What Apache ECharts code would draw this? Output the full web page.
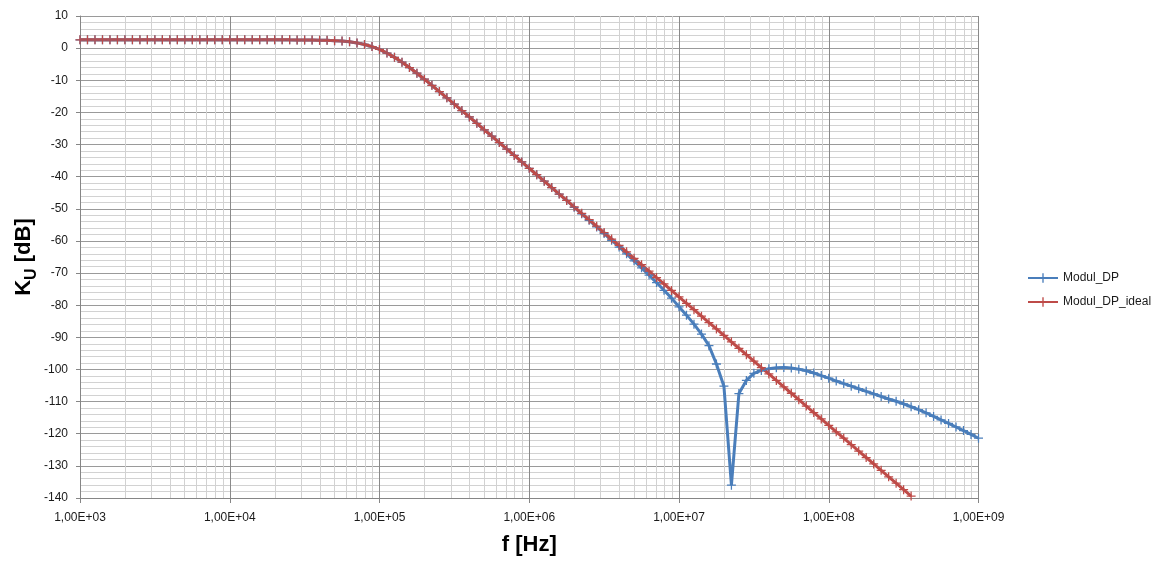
<!DOCTYPE html>
<html>
<head>
<meta charset="utf-8">
<script src="https://cdn.jsdelivr.net/npm/echarts@6/dist/echarts.min.js"></script>
<style>
html,body{margin:0;padding:0;background:#fff;}
#chart{width:1155px;height:561px;}
</style>
</head>
<body>
<div id="chart"></div>
<script>
// Frequencies (Hz), 20 points per decade
var freqs = [
1.000e3,1.122e3,1.259e3,1.413e3,1.585e3,1.778e3,1.995e3,2.239e3,2.512e3,2.818e3,3.162e3,3.548e3,3.981e3,4.467e3,5.012e3,5.623e3,6.310e3,7.079e3,7.943e3,8.913e3,
1.000e4,1.122e4,1.259e4,1.413e4,1.585e4,1.778e4,1.995e4,2.239e4,2.512e4,2.818e4,3.162e4,3.548e4,3.981e4,4.467e4,5.012e4,5.623e4,6.310e4,7.079e4,7.943e4,8.913e4,
1.000e5,1.122e5,1.259e5,1.413e5,1.585e5,1.778e5,1.995e5,2.239e5,2.512e5,2.818e5,3.162e5,3.548e5,3.981e5,4.467e5,5.012e5,5.623e5,6.310e5,7.079e5,7.943e5,8.913e5,
1.000e6,1.122e6,1.259e6,1.413e6,1.585e6,1.778e6,1.995e6,2.239e6,2.512e6,2.818e6,3.162e6,3.548e6,3.981e6,4.467e6,5.012e6,5.623e6,6.310e6,7.079e6,7.943e6,8.913e6,
1.000e7,1.122e7,1.259e7,1.413e7,1.585e7,1.778e7,1.995e7,2.239e7,2.512e7,2.818e7,3.162e7,3.548e7,3.981e7,4.467e7,5.012e7,5.623e7,6.310e7,7.079e7,7.943e7,8.913e7,
1.000e8,1.122e8,1.259e8,1.413e8,1.585e8,1.778e8,1.995e8,2.239e8,2.512e8,2.818e8,3.162e8,3.548e8,3.981e8,4.467e8,5.012e8,5.623e8,6.310e8,7.079e8,7.943e8,8.913e8,
1.000e9
];

// Modul_DP (dB)
var modulDP = [
2.6,2.6,2.6,2.6,2.6,2.6,2.6,2.6,2.6,2.6,2.6,2.6,2.6,2.6,2.6,2.6,2.6,2.6,2.6,2.6,
2.6,2.6,2.6,2.6,2.6,2.6,2.6,2.6,2.58,2.57,2.56,2.53,2.49,2.43,2.33,2.19,1.96,1.63,1.14,0.48,
-0.41,-1.53,-2.86,-4.37,-6.04,-7.81,-9.67,-11.57,-13.51,-15.47,-17.44,-19.43,-21.42,-23.41,-25.41,-27.4,-29.4,-31.4,-33.4,-35.4,
-37.4,-39.4,-41.4,-43.4,-45.4,-47.4,-49.52,-51.56,-53.6,-55.65,-57.71,-59.79,-61.89,-64.02,-66.18,-68.38,-70.64,-72.96,-75.36,-77.8,
-80.5,-83.1,-85.9,-89.0,-92.6,-98.3,-105.2,-136.0,-107.5,-103.4,-101.2,-100.3,-99.8,-99.5,-99.35,-99.55,-99.9,-100.4,-101.1,-101.9,
-102.7,-103.6,-104.4,-105.2,-106.0,-106.8,-107.6,-108.4,-109.2,-109.9,-110.7,-111.6,-112.5,-113.5,-114.6,-115.7,-116.8,-117.9,-119.0,-120.2,
-121.4
];

// Modul_DP_ideal (dB)
var modulDPIdeal = [
2.6,2.6,2.6,2.6,2.6,2.6,2.6,2.6,2.6,2.6,2.6,2.6,2.6,2.6,2.6,2.6,2.6,2.6,2.6,2.6,
2.6,2.6,2.6,2.6,2.6,2.6,2.6,2.6,2.58,2.57,2.56,2.53,2.49,2.43,2.33,2.19,1.96,1.63,1.14,0.48,
-0.41,-1.53,-2.86,-4.37,-6.04,-7.81,-9.67,-11.57,-13.51,-15.47,-17.44,-19.43,-21.42,-23.41,-25.41,-27.4,-29.4,-31.4,-33.4,-35.4,
-37.4,-39.4,-41.4,-43.4,-45.4,-47.4,-49.4,-51.4,-53.4,-55.4,-57.4,-59.4,-61.4,-63.4,-65.4,-67.4,-69.4,-71.4,-73.4,-75.4,
-77.4,-79.4,-81.4,-83.4,-85.4,-87.4,-89.4,-91.4,-93.4,-95.4,-97.4,-99.4,-101.4,-103.4,-105.4,-107.4,-109.4,-111.4,-113.4,-115.4,
-117.4,-119.4,-121.4,-123.4,-125.4,-127.4,-129.4,-131.4,-133.4,-135.4,-137.4,-139.4
];

var seriesNames = ['Modul_DP', 'Modul_DP_ideal'];
var xTickLabels = ['1,00E+03','1,00E+04','1,00E+05','1,00E+06','1,00E+07','1,00E+08','1,00E+09'];

var FONT = '"Liberation Sans", Arial, sans-serif';
var PLUS = 'path://M0,4.3H10V5.7H0Z M4.3,0H5.7V10H4.3Z';

function pairs(vals) {
  return vals.map(function (v, i) { return [freqs[i], v]; });
}

var chart = echarts.init(document.getElementById('chart'), null, {renderer: 'canvas'});
chart.setOption({
  animation: false,
  backgroundColor: '#ffffff',
  textStyle: {fontFamily: FONT},
  grid: {left: 80, right: 176.5, top: 16, bottom: 63, containLabel: false, outerBoundsMode: 'none'},
  legend: {
    orient: 'vertical',
    left: 1022,
    top: 267,
    itemWidth: 30,
    itemHeight: 12,
    itemGap: 12,
    data: seriesNames,
    textStyle: {fontFamily: FONT, fontSize: 12, color: '#1a1a1a'}
  },
  xAxis: {
    type: 'log',
    logBase: 10,
    min: 1e3,
    max: 1e9,
    name: 'f [Hz]',
    nameLocation: 'middle',
    nameGap: 36,
    nameMoveOverlap: false,
    nameTextStyle: {fontFamily: FONT, fontSize: 22, fontWeight: 'bold', color: '#000'},
    axisLine: {show: true, onZero: false, lineStyle: {color: '#868686', width: 1}},
    axisTick: {show: true, length: 5, lineStyle: {color: '#868686'}},
    axisLabel: {
      margin: 14,
      fontSize: 12,
      color: '#1a1a1a',
      fontFamily: FONT,
      formatter: function (v) { return xTickLabels[Math.round(Math.log10(v)) - 3]; }
    },
    splitLine: {show: true, lineStyle: {color: '#8a8a8a', width: 1}},
    minorTick: {show: false, splitNumber: 9},
    minorSplitLine: {show: true, lineStyle: {color: '#d2d2d2', width: 1}}
  },
  yAxis: {
    type: 'value',
    min: -140,
    max: 10,
    interval: 10,
    name: '{k|K}{s|U}{k| [dB]}',
    nameLocation: 'middle',
    nameGap: 40,
    nameMoveOverlap: false,
    nameTextStyle: {
      fontFamily: FONT, fontWeight: 'bold', color: '#000',
      rich: {
        k: {fontFamily: FONT, fontSize: 22, fontWeight: 'bold', color: '#000', lineHeight: 26},
        s: {fontFamily: FONT, fontSize: 16, fontWeight: 'bold', color: '#000', padding: [16, 0, 0, 0]}
      }
    },
    axisLine: {show: true, lineStyle: {color: '#868686', width: 1}},
    axisTick: {show: true, length: 4, lineStyle: {color: '#868686'}},
    axisLabel: {margin: 12, fontSize: 12, color: '#1a1a1a', fontFamily: FONT},
    splitLine: {show: true, lineStyle: {color: '#9a9a9a', width: 1}},
    minorTick: {show: false, splitNumber: 5},
    minorSplitLine: {show: true, lineStyle: {color: '#d2d2d2', width: 1}}
  },
  series: [
    {
      name: seriesNames[0],
      type: 'line',
      data: pairs(modulDP),
      color: '#4a7ebb',
      lineStyle: {color: '#4a7ebb', width: 3},
      itemStyle: {color: '#4a7ebb'},
      symbol: PLUS,
      symbolSize: 9,
      showSymbol: true,
      showAllSymbol: true,
      smooth: false
    },
    {
      name: seriesNames[1],
      type: 'line',
      data: pairs(modulDPIdeal),
      color: '#be4b48',
      lineStyle: {color: '#be4b48', width: 3},
      itemStyle: {color: '#be4b48'},
      symbol: PLUS,
      symbolSize: 9,
      showSymbol: true,
      showAllSymbol: true,
      smooth: false
    }
  ]
});
</script>
</body>
</html>
